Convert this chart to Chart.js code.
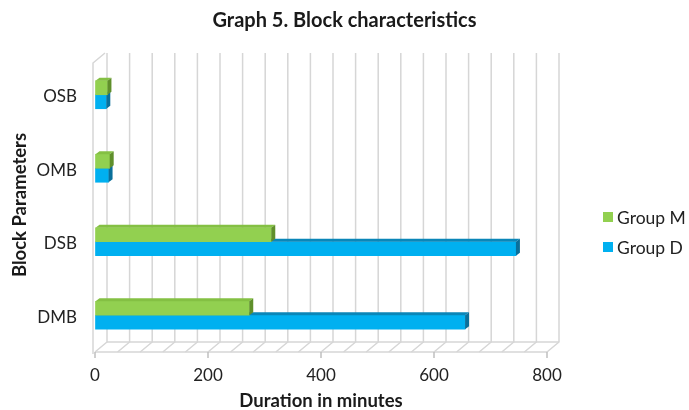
<!DOCTYPE html>
<html>
<head>
<meta charset="utf-8">
<script src="https://cdn.jsdelivr.net/npm/chart.js@4.4.1/dist/chart.umd.min.js"></script>
<style>
  html, body { margin: 0; padding: 0; background: #ffffff; }
  #wrap { position: relative; width: 689px; height: 410px; }
  #legend { position: absolute; left: 603px; top: 202px; font-family: Lato, "Open Sans", sans-serif; font-size: 17.5px; color: #222; }
  .item { display: flex; align-items: center; height: 30px; white-space: nowrap; }
  .sw { width: 10px; height: 10px; margin-right: 4px; }
</style>
</head>
<body>
<div id="wrap">
  <canvas id="c" width="689" height="410"></canvas>
  <div id="legend"></div>
</div>
<script>
const categories = ['OSB', 'OMB', 'DSB', 'DMB'];
const groupM = [22, 26, 312, 273];
const groupD = [20, 24, 745, 655];
const seriesNames = ['Group M', 'Group D'];
const xTicks = [0, 200, 400, 600, 800];

const FONT = 'Lato, "Open Sans", sans-serif';
const faceColors = [
  { front: '#92D050', top: '#84c043', side: '#5f8f2b' },
  { front: '#00B0F0', top: '#0a86b8', side: '#0a6f9a' }
];

const frame3d = {
  id: 'frame3d',
  beforeDatasetsDraw(chart) {
    const ctx = chart.ctx;
    const xs = chart.scales.x;
    const a = chart.chartArea;
    const dx = 12, dy = 10;
    const backTop = a.top - 5;
    const bottom = a.bottom;
    ctx.save();
    ctx.lineWidth = 1.5;
    ctx.strokeStyle = '#d6d6d6';
    for (let v = 0; v <= 800; v += 40) {
      const px = xs.getPixelForValue(v);
      ctx.beginPath();
      ctx.moveTo(px + dx, backTop);
      ctx.lineTo(px + dx, bottom - dy);
      ctx.lineTo(px, bottom);
      ctx.stroke();
    }
    const L = xs.getPixelForValue(0), R = xs.getPixelForValue(800);
    ctx.beginPath();
    ctx.moveTo(L + dx, bottom - dy);
    ctx.lineTo(R + dx, bottom - dy);
    ctx.stroke();
    ctx.beginPath();
    ctx.moveTo(L, bottom);
    ctx.lineTo(R, bottom);
    ctx.stroke();
    ctx.beginPath();
    ctx.moveTo(L - 2, bottom + 2);
    ctx.lineTo(L - 2, backTop + dy);
    ctx.lineTo(L + dx - 2, backTop);
    ctx.stroke();
    ctx.strokeStyle = '#bfbfbf';
    xTicks.forEach(v => {
      const px = xs.getPixelForValue(v);
      ctx.beginPath();
      ctx.moveTo(px, bottom);
      ctx.lineTo(px, bottom + 6);
      ctx.stroke();
    });
    ctx.restore();
  },
  afterDatasetDraw(chart, args) {
    const ctx = chart.ctx;
    const meta = args.meta;
    const c = faceColors[args.index];
    const d = 4, e = 3;
    ctx.save();
    meta.data.forEach(bar => {
      const p = bar.getProps(['x', 'y', 'base', 'height'], true);
      const t = p.y - p.height / 2, b = p.y + p.height / 2;
      ctx.fillStyle = c.top;
      ctx.beginPath();
      ctx.moveTo(p.base, t);
      ctx.lineTo(p.base + d, t - e);
      ctx.lineTo(p.x + d, t - e);
      ctx.lineTo(p.x, t);
      ctx.closePath();
      ctx.fill();
      ctx.fillStyle = c.side;
      ctx.beginPath();
      ctx.moveTo(p.x, t);
      ctx.lineTo(p.x + d, t - e);
      ctx.lineTo(p.x + d, b - e);
      ctx.lineTo(p.x, b);
      ctx.closePath();
      ctx.fill();
    });
    ctx.restore();
  }
};

const chart = new Chart(document.getElementById('c'), {
  type: 'bar',
  data: {
    labels: categories,
    datasets: [
      { label: seriesNames[0], data: groupM, backgroundColor: faceColors[0].front, barThickness: 14 },
      { label: seriesNames[1], data: groupD, backgroundColor: faceColors[1].front, barThickness: 14 }
    ]
  },
  options: {
    indexAxis: 'y',
    responsive: false,
    animation: false,
    layout: { padding: 0 },
    plugins: {
      legend: { display: false },
      tooltip: { enabled: false },
      title: {
        display: true,
        text: 'Graph 5. Block characteristics',
        color: '#1a1a1a',
        font: { family: FONT, size: 20, weight: 'bold' },
        padding: { top: 9, bottom: 25 }
      }
    },
    scales: {
      x: {
        min: 0, max: 800,
        afterFit(s) { s.height = 58; },
        afterBuildTicks(s) { s.ticks = xTicks.map(v => ({ value: v })); },
        grid: { display: true, drawOnChartArea: false, drawTicks: true, tickLength: 8, color: 'rgba(0,0,0,0)' },
        border: { display: false },
        ticks: { color: '#222', font: { family: FONT, size: 17 }, padding: 5, maxRotation: 0 },
        title: {
          display: true, text: 'Duration in minutes', color: '#1a1a1a',
          font: { family: FONT, size: 18.5, weight: 'bold' },
          padding: { top: 0, bottom: -2 }
        }
      },
      y: {
        afterFit(s) { s.width = 95; },
        grid: { display: false, drawTicks: false },
        border: { display: false },
        ticks: { color: '#222', font: { family: FONT, size: 17 }, padding: 18, labelOffset: 2 },
        title: {
          display: true, text: 'Block Parameters', color: '#1a1a1a',
          font: { family: FONT, size: 18.5, weight: 'bold' },
          padding: { top: 9, bottom: 0 }
        }
      },
      yRight: {
        type: 'category',
        axis: 'y',
        position: 'right',
        afterFit(s) { s.width = 142; },
        grid: { display: false, drawTicks: false },
        border: { display: false },
        ticks: { display: false }
      }
    }
  },
  plugins: [frame3d]
});

const lg = document.getElementById('legend');
chart.data.datasets.forEach(ds => {
  const it = document.createElement('div');
  it.className = 'item';
  const sw = document.createElement('span');
  sw.className = 'sw';
  sw.style.background = ds.backgroundColor;
  const tx = document.createElement('span');
  tx.textContent = ds.label;
  it.appendChild(sw); it.appendChild(tx);
  lg.appendChild(it);
});
</script>
</body>
</html>
